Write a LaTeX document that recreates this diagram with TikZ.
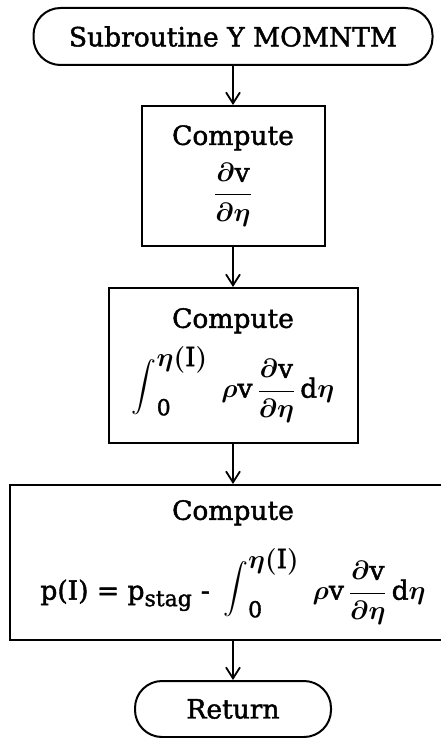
\RequirePackage{fix-cm}
\documentclass[tikz,border=0pt]{standalone}
\usepackage{amsmath}
\usepackage{fontspec}
\setmainfont{DejaVu Serif}[UprightFeatures={FakeBold=1.6}]
\usetikzlibrary{arrows.meta}
\newcommand{\tv}{\text{v}}
\newcommand{\dvdeta}{\dfrac{\partial\tv}{\partial\eta}}
\newcommand{\bigintsym}{\mathop{\text{\fontsize{44}{46}\selectfont$\displaystyle\int$}}\nolimits}
\newcommand{\myint}{\bigintsym_{\text{\fontsize{22}{24}\selectfont 0}}^{\textstyle\eta(\text{I})}\;\rho\tv\,\dvdeta\,\text{d}\eta}
\begin{document}
\begin{tikzpicture}[x=1pt,y=-1pt,
  every node/.style={font=\fontsize{26.5}{30}\selectfont\boldmath},
  term/.style={draw, line width=2pt, rounded corners=27pt, minimum height=57pt, inner sep=0pt},
  proc/.style={draw, line width=2pt, inner sep=0pt, align=center},
  flow/.style={-{Straight Barb[length=11pt,width=14pt,line width=1.8pt]}, line width=2pt}]
\useasboundingbox (0,0) rectangle (441,738);
\clip (0,0) rectangle (441,738);
\node[term, minimum width=399pt] (top) at (233,36.5) {Subroutine Y MOMNTM};
\node[proc, minimum width=183pt, minimum height=140pt] (b1) at (233,176) {Compute\\[12pt] $\dvdeta$\rule[-6pt]{0pt}{0pt}};
\node[proc, minimum width=249pt, minimum height=155pt] (b2) at (233,365.5) {Compute\\[12pt] $\myint$\rule[-20pt]{0pt}{0pt}};
\node[proc, minimum width=446pt, minimum height=155pt] (b3) at (233,562.5) {Compute\\[22pt] $\text{p(I) = p}_{\text{\fontsize{22}{24}\selectfont stag}}\ \text{-}\ \myint$\rule[-12pt]{0pt}{0pt}};
\node[term, minimum width=196pt, minimum height=56pt] (ret) at (233,709) {Return};
\draw[flow] (top) -- (b1);
\draw[flow] (b1) -- (b2);
\draw[flow] (b2) -- (b3);
\draw[flow] (b3) -- (ret);
\end{tikzpicture}
\end{document}
